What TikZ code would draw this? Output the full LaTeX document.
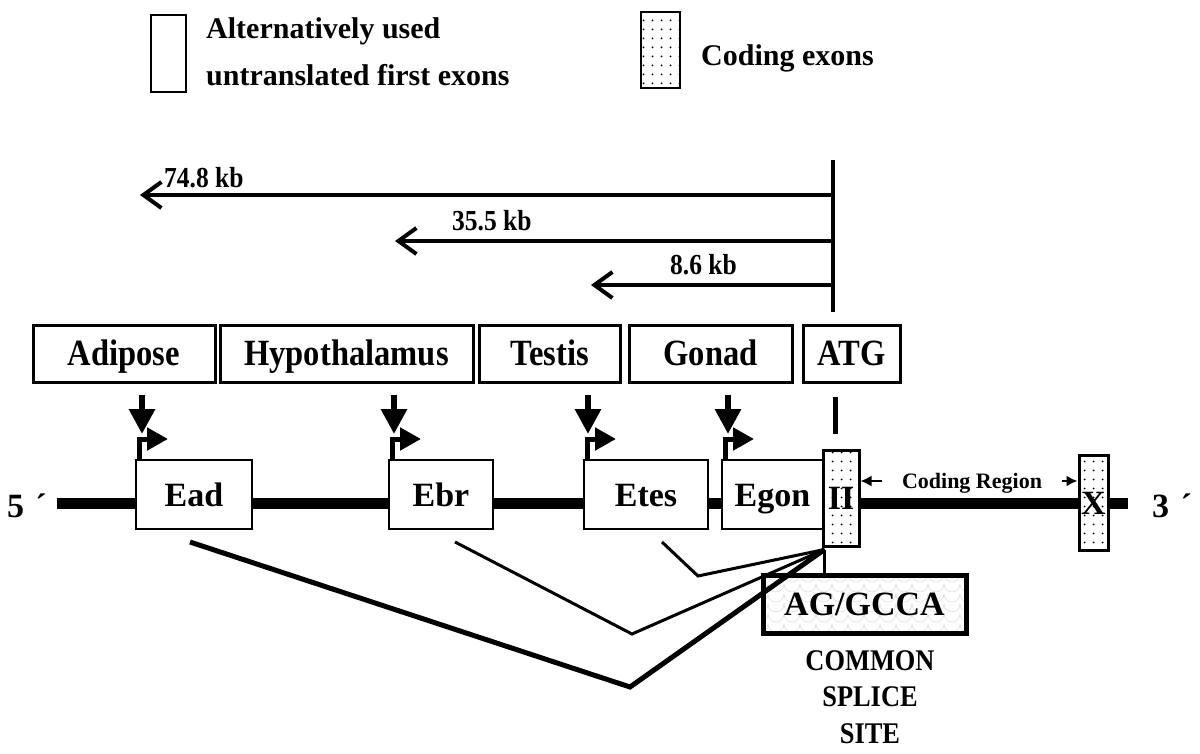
\documentclass[tikz,border=0pt]{standalone}
\usepackage{fontspec}
\setmainfont{Liberation Serif}
\newfontfamily\condserif{Liberation Serif}[FakeStretch=0.88]
\usepackage{tikz}
\usetikzlibrary{shapes,arrows,positioning,calc,patterns,arrows.meta}

\newcommand{\keyfont}{\fontsize{30}{47}\selectfont\bfseries}
\newcommand{\tissuefont}{\condserif\fontsize{37}{40}\selectfont\bfseries}
\newcommand{\exonfont}{\fontsize{34}{38}\selectfont\bfseries}
\newcommand{\kbfont}{\condserif\fontsize{29}{32}\selectfont\bfseries}
\newcommand{\codingfont}{\fontsize{22}{24}\selectfont\bfseries}
\newcommand{\sitefont}{\condserif\fontsize{30}{36.5}\selectfont\bfseries}

\pgfdeclarepatternformonly{sparse dots}{\pgfqpoint{-1pt}{-1pt}}{\pgfqpoint{10pt}{10pt}}{\pgfqpoint{9pt}{9pt}}{%
  \pgfpathcircle{\pgfqpoint{4.5pt}{4.5pt}}{1pt}\pgfusepath{fill}}
\pgfdeclarepatternformonly{fish scales}{\pgfqpoint{-1pt}{-1pt}}{\pgfqpoint{17pt}{11pt}}{\pgfqpoint{16pt}{10pt}}{%
  \pgfsetlinewidth{0.5pt}\pgfpathmoveto{\pgfqpoint{0pt}{10pt}}\pgfpatharc{180}{360}{8pt}\pgfusepath{stroke}}

\tikzset{
  keybox/.style={draw, line width=2pt, inner sep=0pt},
  tissue/.style={draw, line width=3pt, inner sep=0pt, minimum height=57pt, text height=24pt, text depth=0pt, font=\tissuefont},
  exon/.style={draw, line width=2pt, fill=white, inner sep=0pt, minimum height=69pt, text height=23pt, text depth=0pt, font=\exonfont},
  codex/.style={draw, line width=3pt, preaction={fill=white}, pattern=sparse dots, inner sep=0pt, text height=23pt, text depth=0pt, font=\exonfont},
  kbarrow/.style={line width=4pt, -{Straight Barb[length=18pt,width=26pt]}},
  tissuearrow/.style={line width=6pt, -{Triangle[length=25pt,width=25pt]}},
  promoter/.style={line width=5pt, -{Triangle[length=21pt,width=22pt]}},
  codarrow/.style={line width=2pt, -{Latex[length=11pt,width=11pt]}}
}

\begin{document}
\begin{tikzpicture}[x=1pt, y=-1pt]
    \useasboundingbox (0,0) rectangle (1200,754);

    % Legend
    \node[keybox, minimum width=35pt, minimum height=77pt] (keyfirst) at (168.5,53.5) {};
    \node[font=\keyfont, align=left, anchor=west, inner sep=0pt] (keyfirsttext) at (206,52) {Alternatively used\\untranslated first exons};
    \node[keybox, preaction={fill=white}, pattern=sparse dots, minimum width=39pt, minimum height=76pt] (keycoding) at (660.5,50) {};
    \node[font=\keyfont, anchor=base west, inner sep=0pt] (keycodingtext) at (701,66) {Coding exons};

    % Genomic line
    \coordinate (lineL) at (57,503);
    \coordinate (lineR) at (1128,503);
    \draw[line width=11pt] (lineL) -- (lineR);
    \node[font=\exonfont, inner sep=0pt] (five) at (27,506) {5\,\,´};
    \node[font=\exonfont, inner sep=0pt] (three) at (1172,506) {3\,\,´};

    % Exons
    \node[exon, minimum width=116pt] (ead) at (194,494.5) {Ead};
    \node[exon, minimum width=104pt] (ebr) at (441,494.5) {Ebr};
    \node[exon, minimum width=124pt] (etes) at (646,494.5) {Etes};
    \node[exon, minimum width=101pt] (egon) at (772.5,494.5) {Egon};
    \node[codex, minimum width=36pt, minimum height=96pt] (II) at (841,498) {II};
    \node[codex, minimum width=29pt, minimum height=95pt] (X) at (1093.5,502.5) {X};

    % Tissue promoters
    \node[tissue, minimum width=182pt] (adipose) at (124,353.5) {Adipose};
    \node[tissue, minimum width=253pt] (hypo) at (346.5,353.5) {Hypothalamus};
    \node[tissue, minimum width=141pt] (testis) at (549.5,353.5) {Testis};
    \node[tissue, minimum width=163pt] (gonad) at (710.5,353.5) {Gonad};
    \node[tissue, minimum width=97pt] (atg) at (851.5,353.5) {ATG};

    \draw[tissuearrow] ($(adipose.south -| ead.north west)+(7,11)$) -- ($(ead.north west)+(7,-25)$);
    \draw[tissuearrow] ($(hypo.south -| ebr.north west)+(6,11)$) -- ($(ebr.north west)+(6,-25)$);
    \draw[tissuearrow] ($(testis.south -| etes.north west)+(5,11)$) -- ($(etes.north west)+(5,-25)$);
    \draw[tissuearrow] ($(gonad.south -| egon.north west)+(7,11)$) -- ($(egon.north west)+(7,-25)$);

    \draw[promoter] ($(ead.north west)+(4,0)$) |- ++(29,-20);
    \draw[promoter] ($(ebr.north west)+(4,0)$) |- ++(29,-20);
    \draw[promoter] ($(etes.north west)+(4,0)$) |- ++(29,-20);
    \draw[promoter] ($(egon.north west)+(4,0)$) |- ++(29,-20);

    % Distances from ATG
    \coordinate (atgtop) at (833,160);
    \coordinate (tip1) at (140,195);
    \coordinate (tip2) at (395,241);
    \coordinate (tip3) at (591,285);
    \draw[line width=4pt] (atgtop) -- ($(atgtop |- atg.north)+(0,-12)$);
    \draw[kbarrow] (atgtop |- tip1) -- (tip1);
    \draw[kbarrow] (atgtop |- tip2) -- (tip2);
    \draw[kbarrow] (atgtop |- tip3) -- (tip3);
    \node[font=\kbfont, anchor=base west, inner sep=0pt] (kb1) at (164,188) {74.8 kb};
    \node[font=\kbfont, anchor=base west, inner sep=0pt] (kb2) at (452,231) {35.5 kb};
    \node[font=\kbfont, anchor=base west, inner sep=0pt] (kb3) at (670,275) {8.6 kb};
    \draw[line width=5pt] ($(atgtop |- atg.south)+(2,13)$) -- ($(atgtop |- II.north)+(2,-15)$);

    % Coding region
    \node[font=\codingfont, inner xsep=20pt, inner ysep=0pt, text height=15pt, text depth=0pt] (codreg) at (972,481) {Coding Region};
    \draw[codarrow] (codreg.west) -- (codreg.west -| II.east);
    \draw[codarrow] (codreg.east) -- (codreg.east -| X.west);

    % Splicing
    \node[draw, line width=5pt, preaction={fill=white}, pattern=fish scales, pattern color=gray!30, minimum width=203pt, minimum height=58pt, inner sep=0pt, text height=23pt, text depth=0pt, font=\exonfont] (aggcca) at (864.5,604) {AG/GCCA};
    \coordinate (junction) at ($(II.south west)+(3,2)$);
    \coordinate (v1) at (630,687);
    \coordinate (v2) at (632,634);
    \coordinate (v3) at (698,576);
    \draw[line width=3pt] (junction) -- (junction |- aggcca.north);
    \draw[line width=5pt] ($(ead.south)+(-4,12)$) -- (v1) -- (junction);
    \draw[line width=3pt] ($(ebr.south)+(14,12)$) -- (v2) -- (junction);
    \draw[line width=3pt] ($(etes.south)+(16,12)$) -- (v3) -- (junction);
    \node[font=\sitefont, align=center, anchor=north, inner sep=0pt] (site) at (870,650) {COMMON\\SPLICE\\SITE};
\end{tikzpicture}
\end{document}
